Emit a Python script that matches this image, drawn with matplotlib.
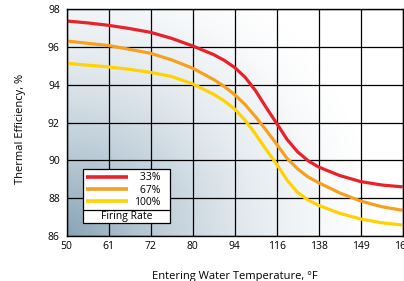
import numpy as np
import matplotlib
matplotlib.use("Agg")
import matplotlib.pyplot as plt
from matplotlib.colors import LinearSegmentedColormap
from matplotlib.patches import Rectangle
from matplotlib.lines import Line2D

plt.rcParams['font.family'] = ['Open Sans', 'DejaVu Sans']

# Data
x_ticklabels = ["50", "61", "72", "80", "94", "116", "138", "149", "160"]
y_ticks = [86, 88, 90, 92, 94, 96, 98]
# positions along the categorical axis (category index)
x_pos = [0, 0.5, 1, 1.5, 2, 2.5, 3, 3.5, 3.75, 4, 4.25, 4.5, 4.75, 5, 5.25, 5.5,
         5.75, 6, 6.5, 7, 7.5, 8]
eff_33 = [97.38, 97.28, 97.15, 96.98, 96.78, 96.46, 96.06, 95.6, 95.3, 94.92,
          94.4, 93.68, 92.8, 91.96, 91.1, 90.45, 89.98, 89.65, 89.2, 88.88, 88.7, 88.6]
eff_67 = [96.32, 96.2, 96.08, 95.88, 95.67, 95.32, 94.88, 94.28, 93.92, 93.48,
          92.95, 92.3, 91.6, 90.85, 90.1, 89.55, 89.12, 88.82, 88.28, 87.85, 87.55, 87.36]
eff_100 = [95.14, 95.04, 94.95, 94.82, 94.66, 94.44, 94.05, 93.5, 93.15, 92.72,
           92.12, 91.38, 90.57, 89.8, 88.95, 88.3, 87.9, 87.62, 87.2, 86.9, 86.7, 86.58]
series_labels = ["\u200733%", "\u200767%", "100%"]
series_colors = ["#e8212b", "#f6a11d", "#ffd200"]
legend_title = "Firing Rate"

W, H = 404, 281
L, R, T, B = 66.7, 402.7, 9.3, 236.0
fig = plt.figure(figsize=(W/100, H/100), dpi=100)
ax = fig.add_axes([L/W, 1-B/H, (R-L)/W, (B-T)/H])

def ax_frac(px, py):
    return (px - L)/(R - L), 1 - (py - T)/(B - T)

# gradient background
gx, gy = np.meshgrid(np.linspace(0, 1, 300), np.linspace(0, 1, 300))
d = np.sqrt((gx*1.35)**2 + (gy*0.95)**2)
v = np.clip(1 - d/1.25, 0, 1)**1.3
cmap = LinearSegmentedColormap.from_list("bg", ["#ffffff", "#e2e9ee", "#b9cad5", "#88a5b6"])
ax.imshow(v, cmap=cmap, vmin=0, vmax=1, origin='lower', aspect='auto',
          extent=[0, 8, 86, 98], zorder=0, interpolation='bilinear')

ax.set_xlim(0, 8)
ax.set_ylim(86, 98)
ax.set_xticks(range(len(x_ticklabels)))
ax.set_xticklabels(x_ticklabels)
ax.set_yticks(y_ticks)
ax.tick_params(axis='x', length=0, labelsize=7.5, pad=3.5)
ax.tick_params(axis='y', length=0, labelsize=7.5, pad=5)
ax.grid(True, color='black', linewidth=0.9, zorder=1)
for s in ax.spines.values():
    s.set_linewidth(1.0)
    s.set_zorder(3)

handles = []
for ys, lab, c in zip([eff_33, eff_67, eff_100], series_labels, series_colors):
    ln, = ax.plot(x_pos, ys, color=c, linewidth=2.3, label=lab, zorder=2,
                  solid_capstyle='butt', solid_joinstyle='round')
    handles.append(ln)

# legend frame
x0, y0 = ax_frac(83, 223)
x1, y1 = ax_frac(170, 169)
ax.add_patch(Rectangle((x0, y0), x1-x0, y1-y0, transform=ax.transAxes,
                       facecolor='white', edgecolor='black', linewidth=0.9, zorder=4))
sx0, sy = ax_frac(83, 209.5)
sx1, _ = ax_frac(170, 209.5)
ax.add_line(Line2D([sx0, sx1], [sy, sy], transform=ax.transAxes, color='black',
                   linewidth=0.9, zorder=5))
tx, ty = ax_frac(126.5, 216.5)
ax.text(tx, ty, legend_title, transform=ax.transAxes, ha='center', va='center',
        fontsize=7.5, zorder=6)

leg = ax.legend(handles=handles, loc='upper left',
                bbox_to_anchor=ax_frac(86, 172.5),
                fontsize=7.5, frameon=False, handlelength=4.0, handletextpad=0.6,
                borderpad=0, labelspacing=0.1, borderaxespad=0)
leg.set_zorder(6)
for h in leg.legend_handles:
    h.set_linewidth(2.6)

ax.set_ylabel("Thermal Efficiency, %", fontsize=8)
ax.yaxis.set_label_coords(-(L-26)/(R-L), 1-(129-T)/(B-T))
fig.text(234.7/W, 1-276/H, "Entering Water Temperature, \u00b0F",
         ha='center', va='center', fontsize=8)

fig.savefig("out.png", dpi=100)
